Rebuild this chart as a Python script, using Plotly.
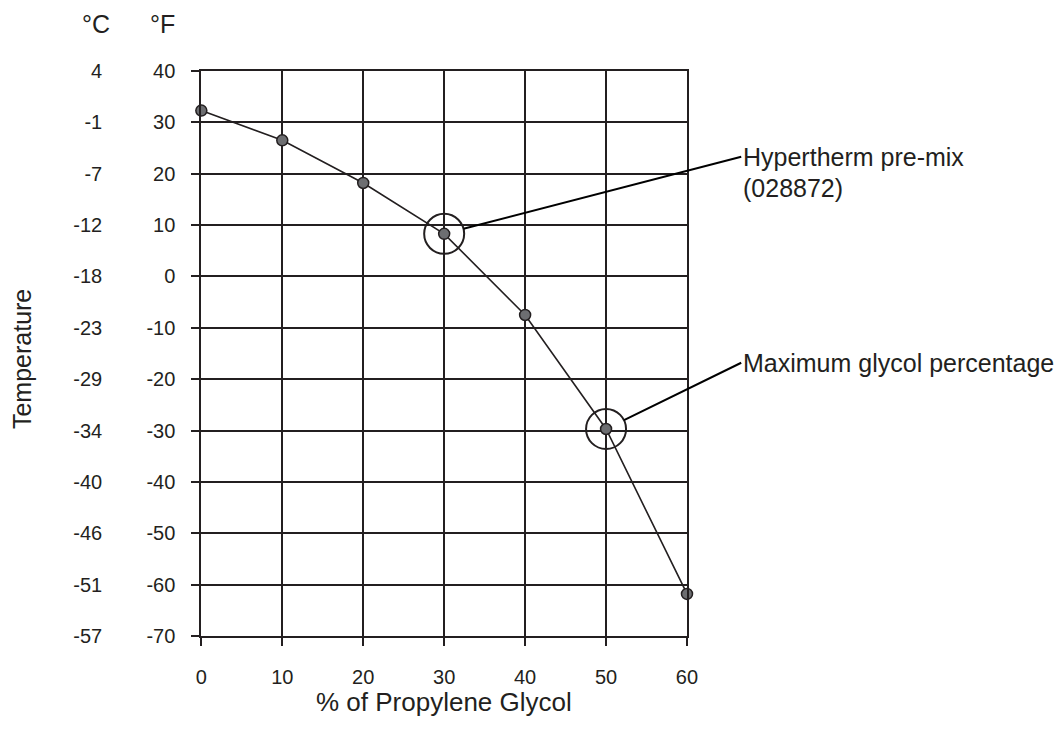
import plotly.graph_objects as go

glycol_pct = [0, 10, 20, 30, 40, 50, 60]
temp_f = [32.3, 26.5, 18.2, 8.3, -7.5, -29.7, -61.8]

f_ticks = [40, 30, 20, 10, 0, -10, -20, -30, -40, -50, -60, -70]
f_text = ["40", "30", "20", "10", "0", "-10", "-20", "-30", "-40", "-50", "-60", "-70"]
c_text = ["4", "-1", "-7", "-12", "-18", "-23", "-29", "-34", "-40", "-46", "-51", "-57"]

callouts = [
    {"x": 30, "y": 8.3, "label": "Hypertherm pre-mix", "sub": "(028872)", "ax": 66.7, "ay": 23.3},
    {"x": 50, "y": -29.7, "label": "Maximum glycol percentage", "sub": "", "ax": 66.7, "ay": -16.8},
]

FONT = "Liberation Sans, Arial, sans-serif"
INK = "#231f20"
TXT = 25
TICK = 20

# page has an 8px body margin, so the figure is 8px smaller than the window
W, H = 1055, 721
PW = W - 376  # paper width (l=0)
X0 = 189 / PW  # x domain start
XR, YR = [0, 60], [-70, 40]


def to_paper(x, y):
    px = X0 + (1 - X0) * (x - XR[0]) / (XR[1] - XR[0])
    py = (y - YR[0]) / (YR[1] - YR[0])
    return px, py


fig = go.Figure()

fig.add_trace(go.Scatter(
    x=glycol_pct, y=temp_f, mode="lines+markers",
    line=dict(color=INK, width=1.6),
    marker=dict(size=11, color="#6d6e71", line=dict(color=INK, width=1.5)),
    cliponaxis=False, showlegend=False,
))

# circles around the highlighted points
fig.add_trace(go.Scatter(
    x=[c["x"] for c in callouts], y=[c["y"] for c in callouts], mode="markers",
    marker=dict(size=40, symbol="circle-open", color=INK, line=dict(width=2)),
    cliponaxis=False, showlegend=False, hoverinfo="skip",
))

# dummy trace so the °C axis is drawn
fig.add_trace(go.Scatter(x=[None], y=[None], yaxis="y2", showlegend=False))

for c in callouts:
    fig.add_annotation(
        x=c["x"], y=c["y"], ax=c["ax"], ay=c["ay"], axref="x", ayref="y",
        text=c["label"], showarrow=True, arrowhead=0, arrowwidth=2,
        arrowcolor="black", standoff=20, xanchor="left", yanchor="middle",
        font=dict(size=TXT, color=INK, family=FONT),
    )
    if c["sub"]:
        px, py = to_paper(c["ax"], c["ay"])
        fig.add_annotation(
            x=px, y=py, xref="paper", yref="paper", text=c["sub"], showarrow=False,
            xanchor="left", yanchor="middle", yshift=-31,
            font=dict(size=TXT, color=INK, family=FONT),
        )

fig.add_annotation(x=83 / PW, y=1.083, xref="paper", yref="paper", text="°C",
                   xanchor="center", yanchor="middle", showarrow=False,
                   font=dict(size=TXT, color=INK, family=FONT))
fig.add_annotation(x=150 / PW, y=1.083, xref="paper", yref="paper", text="°F",
                   xanchor="center", yanchor="middle", showarrow=False,
                   font=dict(size=TXT, color=INK, family=FONT))
fig.add_annotation(x=8 / PW, y=0.49, xref="paper", yref="paper", text="Temperature",
                   textangle=-90, xanchor="center", yanchor="middle", showarrow=False,
                   borderpad=0, font=dict(size=TXT, color=INK, family=FONT))
fig.add_annotation(x=(X0 + 1) / 2, y=-0.117, xref="paper", yref="paper",
                   text="% of Propylene Glycol", xanchor="center", yanchor="middle",
                   showarrow=False, font=dict(size=26, color=INK, family=FONT))

fig.update_layout(
    width=W, height=H,
    margin=dict(l=0, r=376, t=63, b=93),
    plot_bgcolor="white", paper_bgcolor="white",
    font=dict(family=FONT, size=TICK, color=INK),
    xaxis=dict(
        domain=[X0, 1], range=XR, tickvals=glycol_pct,
        showgrid=True, gridcolor=INK, gridwidth=2,
        showline=True, linecolor=INK, linewidth=2, mirror=True,
        ticks="outside", ticklen=8, tickwidth=2, tickcolor=INK,
        ticklabelstandoff=14, zeroline=False,
    ),
    yaxis=dict(
        range=YR, tickvals=f_ticks, ticktext=f_text,
        showgrid=True, gridcolor=INK, gridwidth=2,
        showline=True, linecolor=INK, linewidth=2, mirror=True,
        ticks="outside", ticklen=8, tickwidth=2, tickcolor=INK,
        ticklabelstandoff=12, zeroline=False,
    ),
    yaxis2=dict(
        range=YR, tickvals=f_ticks, ticktext=c_text,
        overlaying="y", anchor="free", position=89 / PW, side="left",
        showgrid=False, showline=False, ticks="", zeroline=False,
    ),
)

fig.write_html("out.html")
